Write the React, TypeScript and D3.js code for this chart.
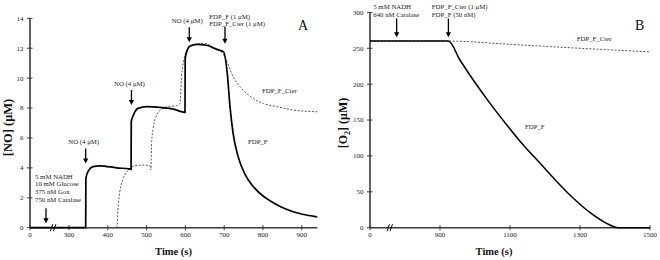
import React from 'react';
import * as d3 from 'd3';

// ---------- Panel A data: [NO] (µM) vs time (s) ----------
const noTicksX = [0, 300, 400, 500, 600, 700, 800, 900];
const noTicksY = [0, 2, 4, 6, 8, 10, 12, 14];

const fdpTimeA = [0, 343, 343.5, 350, 362, 380, 423, 457, 460, 460.5, 466, 478, 500, 534, 569, 599, 599.5, 605, 612, 629, 655, 681, 698, 708, 715, 723, 736, 753, 775, 801, 818, 844, 878, 912, 940];
const fdpValA = [0, 0, 3.3, 3.8, 4.08, 4.14, 4.0, 3.92, 3.9, 7.09, 7.53, 7.98, 8.09, 8.05, 7.93, 7.71, 11.3, 11.88, 12.15, 12.26, 12.2, 11.92, 11.77, 10.3, 8.1, 6.3, 4.75, 3.6, 2.75, 2.1, 1.8, 1.42, 1.07, 0.85, 0.72];

const cterTimeA = [0, 423, 424.5, 427, 431, 440, 453, 466, 491, 509, 511, 513, 517, 526, 539, 556, 578, 584, 586, 590, 596, 607, 620, 646, 670, 700, 723, 749, 775, 801, 835, 878, 940];
const cterValA = [0, 0, 0.4, 1.5, 2.4, 3.3, 3.86, 4.12, 4.19, 4.14, 3.86, 5.75, 6.64, 7.53, 7.93, 8.09, 8.16, 8.25, 8.3, 10.1, 11.2, 12.0, 12.2, 12.33, 12.1, 11.5, 10.1, 9.2, 8.65, 8.3, 8.1, 7.87, 7.75];

const arrowTimeA = [123, 343, 461, 610, 702];
const arrowValA = [0.2, 4.2, 8.1, 12.3, 12.2];
const arrowTextA = [
  ['5 mM NADH', '10 mM Glucose', '375 nM Gox', '750 nM Catalase'],
  ['NO (4 μM)'],
  ['NO (4 μM)'],
  ['NO (4 μM)'],
  ['FDP_F (1 μM)', 'FDP_F_Cter (1 μM)'],
];

// ---------- Panel B data: [O2] (µM) vs time (s) ----------
const o2TicksX = [0, 900, 1100, 1300, 1500];
const o2TicksY = [0, 50, 100, 150, 200, 250, 300];

const fdpTimeB = [0, 924, 957, 995, 1043, 1091, 1138, 1186, 1234, 1281, 1329, 1376, 1409, 1500];
const fdpValB = [260, 260, 233.7, 205.8, 173.3, 143.1, 115.2, 89.7, 64.1, 41, 20.9, 6.1, 0, 0];

const cterTimeB = [0, 924, 1100, 1300, 1500];
const cterValB = [260, 260, 255.5, 250, 245];

const arrowTimeB = [343, 924];
const arrowTextB = [
  ['5 mM NADH', '640 nM Catalase'],
  ['FDP_F_Cter (1 μM)', 'FDP_F (50 nM)'],
];

const FONT = "'Liberation Serif', 'Times New Roman', serif";
const AXIS = '#3a3a3a';

function Arrow({ x, y1, y2 }: { x: number; y1: number; y2: number }) {
  return (
    <g>
      <line x1={x} x2={x} y1={y1} y2={y2 - 4} stroke="#000" strokeWidth={1.3} />
      <path d={`M${x - 2.6},${y2 - 5} L${x + 2.6},${y2 - 5} L${x},${y2} Z`} fill="#000" />
    </g>
  );
}

function BreakMark({ x, y }: { x: number; y: number }) {
  return (
    <g stroke="#000" strokeWidth={1}>
      <line x1={x - 3} y1={y + 3.5} x2={x - 0.5} y2={y - 3.5} />
      <line x1={x} y1={y + 3.5} x2={x + 2.5} y2={y - 3.5} />
    </g>
  );
}

export default function App() {
  // Panel A scales (broken axis: 0..300 compressed)
  const xA = d3.scaleLinear().domain([0, 300, 940]).range([30, 69, 317.3]);
  const yA = d3.scaleLinear().domain([0, 14]).range([227.7, 18.3]);
  // Panel B scales (broken axis: 0..900 compressed)
  const xB = d3.scaleLinear().domain([0, 900, 1500]).range([370, 440, 650]);
  const yB = d3.scaleLinear().domain([0, 300]).range([227.7, 12.4]);

  const lineA = d3
    .line<[number, number]>()
    .x((d) => xA(d[0]))
    .y((d) => yA(d[1]))
    .curve(d3.curveMonotoneX);
  const lineB = d3
    .line<[number, number]>()
    .x((d) => xB(d[0]))
    .y((d) => yB(d[1]))
    .curve(d3.curveMonotoneX);

  const fdpA = fdpTimeA.map((t, i) => [t, fdpValA[i]] as [number, number]);
  const cterA = cterTimeA.map((t, i) => [t, cterValA[i]] as [number, number]);
  const fdpB = fdpTimeB.map((t, i) => [t, fdpValB[i]] as [number, number]);
  const cterB = cterTimeB.map((t, i) => [t, cterValB[i]] as [number, number]);

  const tickFont = { fontFamily: FONT, fontSize: 7, fill: '#222' };
  const annFont = { fontFamily: FONT, fontSize: 6.8, fill: '#222' };

  const y0A = yA(0);
  const y0B = yB(0);

  const aTips = arrowValA.map((v) => yA(v) - 1.5);
  const arrowLen = 15;

  return (
    <svg width={660} height={260} style={{ position: 'absolute', left: 0, top: 0, background: '#fff' }}>
      <rect width={660} height={260} fill="#fff" />
      {/* ---------- Panel A ---------- */}
      <g>
        <line x1={xA(0)} x2={xA(0)} y1={yA(14)} y2={y0A} stroke={AXIS} strokeWidth={1.6} />
        <line x1={xA(0)} x2={xA(940)} y1={y0A} y2={y0A} stroke={AXIS} strokeWidth={1.6} />
        {noTicksY.map((v) => (
          <g key={'ya' + v}>
            <line x1={xA(0) - 3} x2={xA(0) + 2.5} y1={yA(v)} y2={yA(v)} stroke={AXIS} strokeWidth={1} />
            <text x={23.5} y={yA(v) + 2.4} textAnchor="end" {...tickFont}>{v}</text>
          </g>
        ))}
        {noTicksX.map((t) => (
          <g key={'xa' + t}>
            <line x1={xA(t)} x2={xA(t)} y1={y0A - 2.5} y2={y0A + 2.5} stroke={AXIS} strokeWidth={1} />
            <text x={xA(t)} y={237} textAnchor="middle" {...tickFont}>{t}</text>
          </g>
        ))}
        <BreakMark x={xA(180)} y={y0A} />
        <path d={lineA(cterA) || ''} fill="none" stroke="#555" strokeWidth={1} strokeDasharray="2,1.6" />
        <path d={lineA(fdpA) || ''} fill="none" stroke="#000" strokeWidth={1.7} />
        <Arrow x={xA(arrowTimeA[0])} y1={aTips[0] - arrowLen} y2={aTips[0]} />
        {arrowTextA[0].map((s, i) => (
          <text key={'a0' + i} x={35} y={178.5 + i * 7.9} {...annFont}>{s}</text>
        ))}
        {[1, 2, 3].map((k) => (
          <g key={'ar' + k}>
            <Arrow x={xA(arrowTimeA[k])} y1={aTips[k] - arrowLen} y2={aTips[k]} />
            <text x={xA(arrowTimeA[k]) - 2} y={aTips[k] - arrowLen - 4.5} textAnchor="middle" {...annFont}>
              {arrowTextA[k][0]}
            </text>
          </g>
        ))}
        <Arrow x={xA(arrowTimeA[4])} y1={aTips[4] - 17} y2={aTips[4]} />
        {arrowTextA[4].map((s, i) => (
          <text key={'a4' + i} x={209.3} y={18.5 + i * 7.4} {...annFont}>{s}</text>
        ))}
        <text x={262} y={92.5} {...annFont}>FDP_F_Cter</text>
        <text x={248} y={144} {...annFont}>FDP_F</text>
        <text x={298} y={30} fontFamily={FONT} fontSize={14} fill="#111">A</text>
        <text x={173.5} y={255} textAnchor="middle" fontFamily={FONT} fontSize={10.5} fontWeight="bold" fill="#111">Time (s)</text>
        <text transform={`translate(11.5,127.5) rotate(-90)`} textAnchor="middle" fontFamily={FONT} fontSize={12.5} fontWeight="bold" fill="#111">{'[NO] (μM)'}</text>
      </g>

      {/* ---------- Panel B ---------- */}
      <g>
        <line x1={xB(0)} x2={xB(0)} y1={yB(300)} y2={y0B} stroke={AXIS} strokeWidth={1.6} />
        <line x1={xB(0)} x2={xB(1500)} y1={y0B} y2={y0B} stroke={AXIS} strokeWidth={1.6} />
        {o2TicksY.map((v) => (
          <g key={'yb' + v}>
            <line x1={xB(0) - 3} x2={xB(0) + 2.5} y1={yB(v)} y2={yB(v)} stroke={AXIS} strokeWidth={1} />
            <text x={363.5} y={yB(v) + 2.4} textAnchor="end" {...tickFont}>{v}</text>
          </g>
        ))}
        {o2TicksX.map((t) => (
          <g key={'xb' + t}>
            <line x1={xB(t)} x2={xB(t)} y1={y0B - 2.5} y2={y0B + 2.5} stroke={AXIS} strokeWidth={1} />
            <text x={xB(t)} y={237} textAnchor="middle" {...tickFont}>{t}</text>
          </g>
        ))}
        <BreakMark x={xB(257)} y={y0B} />
        <path d={lineB(cterB) || ''} fill="none" stroke="#555" strokeWidth={1} strokeDasharray="2,1.6" />
        <path d={lineB(fdpB) || ''} fill="none" stroke="#000" strokeWidth={1.5} />
        {arrowTimeB.map((t, k) => (
          <g key={'ab' + k}>
            <Arrow x={xB(t)} y1={18.5} y2={37.3} />
            {arrowTextB[k].map((s, i) => (
              <text key={i} x={xB(t) - (k === 0 ? 23.4 : 16.6)} y={9 + i * 7.7} {...annFont}>{s}</text>
            ))}
          </g>
        ))}
        <text x={576.7} y={41} {...annFont}>FDP_F_Cter</text>
        <text x={525} y={129} {...annFont}>FDP_F</text>
        <text x={635} y={30} fontFamily={FONT} fontSize={14} fill="#111">B</text>
        <text x={494} y={254.5} textAnchor="middle" fontFamily={FONT} fontSize={10.5} fontWeight="bold" fill="#111">Time (s)</text>
        <text transform={`translate(347,123) rotate(-90)`} textAnchor="middle" fontFamily={FONT} fontSize={12} fontWeight="bold" fill="#111">
          [O<tspan fontSize={8} dy={2.5}>2</tspan><tspan dy={-2.5}>{'] (μM)'}</tspan>
        </text>
      </g>
    </svg>
  );
}
